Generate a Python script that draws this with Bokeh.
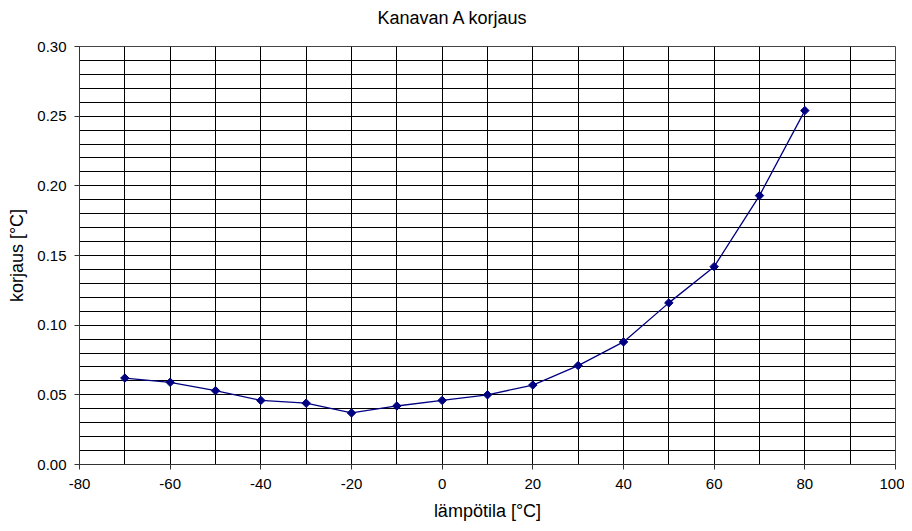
import math
from bokeh.plotting import figure
from bokeh.models import Range1d, FixedTicker, PrintfTickFormatter, Title
from bokeh.embed import file_html
from bokeh.resources import INLINE

# data
temps = [-70, -60, -50, -40, -30, -20, -10, 0, 10, 20, 30, 40, 50, 60, 70, 80]
corr = [0.062, 0.059, 0.053, 0.046, 0.044, 0.037, 0.042, 0.046, 0.050, 0.057,
        0.071, 0.088, 0.116, 0.142, 0.193, 0.254]
x_ticks = [-80, -60, -40, -20, 0, 20, 40, 60, 80, 100]
y_ticks = [0.0, 0.05, 0.10, 0.15, 0.20, 0.25, 0.30]
title_text = "Kanavan A korjaus"

FONT = "Liberation Sans"
NAVY = "#000080"

p = figure(width=904, height=523, output_backend="svg", toolbar_location=None,
           x_range=Range1d(-80, 100), y_range=Range1d(0, 0.30),
           min_border_left=79, min_border_right=9, min_border_top=46, min_border_bottom=58)

# spacer panel between frame and title
spacer = Title(text=" ", text_font_size="1px", standoff=16)
p.add_layout(spacer, "above")
t = Title(text=title_text, align="left", offset=298, standoff=0,
          text_font=FONT, text_font_size="18px", text_font_style="normal", text_color="black")
p.add_layout(t, "above")

p.line(temps, corr, line_color=NAVY, line_width=1.3)
p.scatter(temps, corr, marker="square", angle=math.pi / 4, size=6,
          fill_color=NAVY, line_color=NAVY)

# axes
p.xaxis.ticker = FixedTicker(ticks=x_ticks)
p.yaxis.ticker = FixedTicker(ticks=y_ticks)
p.xaxis.formatter = PrintfTickFormatter(format="%d")
p.yaxis.formatter = PrintfTickFormatter(format="%.2f")
for ax in (p.xaxis[0], p.yaxis[0]):
    ax.major_label_text_font = FONT
    ax.major_label_text_font_size = "15px"
    ax.major_label_text_color = "black"
    ax.axis_label_text_font = FONT
    ax.axis_label_text_font_size = "18px"
    ax.axis_label_text_font_style = "normal"
    ax.axis_label_text_color = "black"
    ax.major_tick_out = 5
    ax.major_tick_in = 0
    ax.minor_tick_out = 0
    ax.minor_tick_in = 0
    ax.axis_line_color = "#333333"
    ax.major_tick_line_color = "#333333"
p.xaxis.major_label_standoff = 9
p.xaxis.axis_label_standoff = 9
p.yaxis.major_label_standoff = 8
p.yaxis.axis_label_standoff = 7
p.xaxis.axis_label = "lämpötila [°C]"
p.yaxis.axis_label = "korjaus [°C]"

# grids
p.xgrid.ticker = FixedTicker(ticks=list(range(-80, 101, 10)))
p.ygrid.ticker = FixedTicker(ticks=[i / 100 for i in range(0, 31)])
for g in (p.xgrid[0], p.ygrid[0]):
    g.grid_line_color = "black"
    g.grid_line_width = 1
    g.grid_line_alpha = 1.0

p.outline_line_color = "#444444"
p.outline_line_width = 1
p.background_fill_color = "white"
p.border_fill_color = "white"

open("out.html", "w").write(file_html(p, INLINE))
